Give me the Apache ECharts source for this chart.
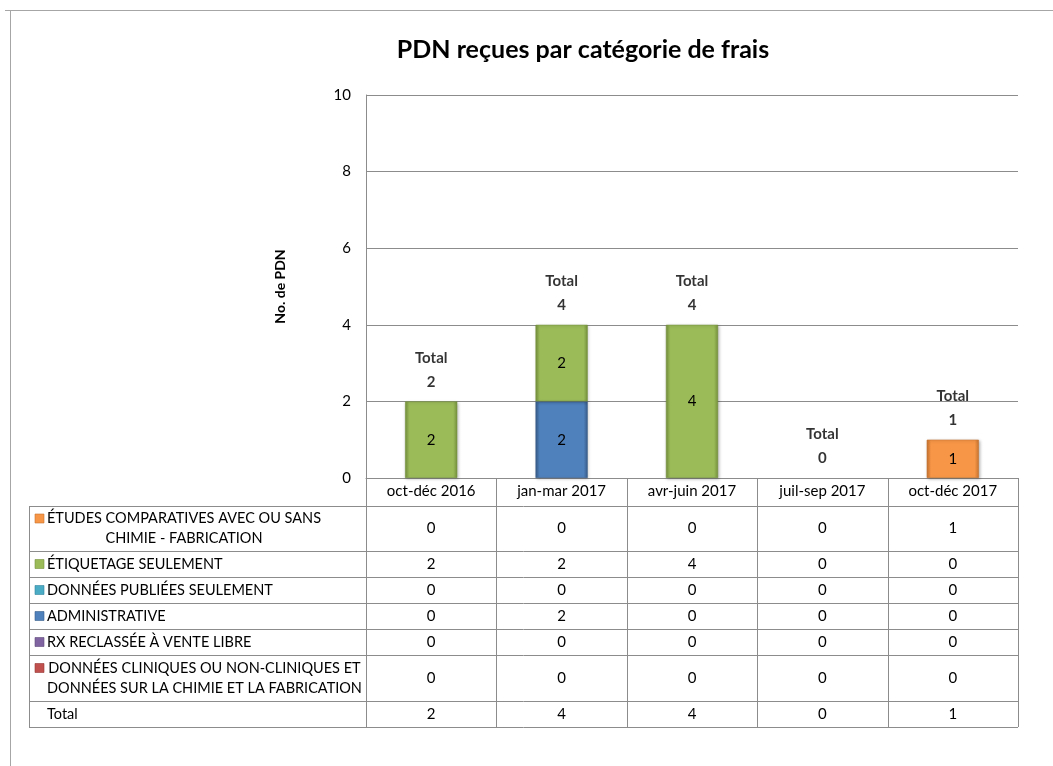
<!DOCTYPE html>
<html>
<head>
<meta charset="utf-8">
<script src="https://cdn.jsdelivr.net/npm/echarts@6/dist/echarts.min.js"></script>
<style>
html,body{margin:0;padding:0;background:#fff;}
#c{width:1053px;height:766px;}
</style>
</head>
<body>
<div id="c"></div>
<script>
// ---- data ----
const categories = ['oct-déc 2016', 'jan-mar 2017', 'avr-juin 2017', 'juil-sep 2017', 'oct-déc 2017'];
const etudes = [0, 0, 0, 0, 1];
const etiquetage = [2, 2, 4, 0, 0];
const publiees = [0, 0, 0, 0, 0];
const administrative = [0, 2, 0, 0, 0];
const rx = [0, 0, 0, 0, 0];
const cliniques = [0, 0, 0, 0, 0];
const yTicks = [0, 2, 4, 6, 8, 10];
const titleText = 'PDN reçues par catégorie de frais';
const yName = 'No. de PDN';
const names = {
  etudes: 'ÉTUDES COMPARATIVES AVEC OU SANS\nCHIMIE - FABRICATION',
  etiquetage: 'ÉTIQUETAGE SEULEMENT',
  publiees: 'DONNÉES PUBLIÉES SEULEMENT',
  administrative: 'ADMINISTRATIVE',
  rx: 'RX RECLASSÉE À VENTE LIBRE',
  cliniques: 'DONNÉES CLINIQUES OU NON-CLINIQUES ET\nDONNÉES SUR LA CHIMIE ET LA FABRICATION'
};
const colors = {
  etudes: '#F79646', etiquetage: '#9BBB59', publiees: '#4BACC6',
  administrative: '#4F81BD', rx: '#8064A2', cliniques: '#C0504D'
};
const borders = {
  etudes: '#C77430', etiquetage: '#76923C', publiees: '#31859C',
  administrative: '#385D8A', rx: '#5F497A', cliniques: '#943634'
};
const dataMap = { etudes, etiquetage, publiees, administrative, rx, cliniques };
const stackOrder = ['cliniques', 'rx', 'administrative', 'publiees', 'etiquetage', 'etudes'];
const tableOrder = ['etudes', 'etiquetage', 'publiees', 'administrative', 'rx', 'cliniques'];
const totals = categories.map((_, i) => stackOrder.reduce((s, k) => s + dataMap[k][i], 0));

const FONT = 'Lato, "Noto Sans", sans-serif';
const FS = 15;      // table / axis font size
const FS_LBL = 14.5; // row label font size

function shade(c, b) {
  return new echarts.graphic.LinearGradient(0, 0, 1, 0, [
    { offset: 0, color: b }, { offset: 0.08, color: c }, { offset: 0.92, color: c }, { offset: 1, color: b }
  ]);
}

const series = stackOrder.map(k => ({
  name: names[k],
  type: 'bar',
  stack: 'all',
  barWidth: '40%',
  data: dataMap[k].map(v => (v === 0 ? '-' : v)),
  itemStyle: { color: shade(colors[k], borders[k]), borderColor: borders[k], borderWidth: 0.6,
    shadowColor: 'rgba(0,0,0,0.25)', shadowBlur: 3, shadowOffsetX: 1, shadowOffsetY: 1 },
  label: {
    show: true, position: 'inside', color: '#000', fontSize: FS, fontFamily: FONT,
    formatter: p => String(p.value)
  },
  emphasis: { disabled: true }
}));
series.push({
  type: 'scatter',
  data: totals,
  symbolSize: 1,
  itemStyle: { color: 'rgba(0,0,0,0)' },
  label: {
    show: true, position: 'top', distance: 7,
    formatter: p => '{b|Total}\n{b|' + p.value + '}',
    rich: { b: { color: '#000', fontSize: FS, fontWeight: 700, fontFamily: FONT, lineHeight: 24 } }
  },
  emphasis: { disabled: true },
  z: 10
});

const chart = echarts.init(document.getElementById('c'), null, { renderer: 'canvas' });
chart.setOption({
  animation: false,
  backgroundColor: '#fff',
  title: {
    text: titleText, left: 578, top: 32, textAlign: 'center',
    textStyle: { fontSize: 25, fontWeight: 'bold', color: '#000', fontFamily: FONT }
  },
  grid: { left: 366, right: 35, top: 95, bottom: 288 },
  xAxis: {
    type: 'category', data: categories,
    axisLine: { lineStyle: { color: '#8c8c8c' } },
    axisTick: { show: false },
    axisLabel: { color: '#000', fontSize: FS, fontFamily: FONT, margin: 6, interval: 0 }
  },
  yAxis: {
    type: 'value', min: yTicks[0], max: yTicks[yTicks.length - 1], interval: yTicks[1] - yTicks[0],
    name: yName, nameLocation: 'middle', nameRotate: 90, nameGap: 79,
    nameTextStyle: { fontSize: 14, fontWeight: 'bold', color: '#000', fontFamily: FONT },
    axisLine: { show: true, lineStyle: { color: '#8c8c8c' } },
    axisTick: { show: false },
    axisLabel: { color: '#000', fontSize: FS, fontFamily: FONT, margin: 15 },
    splitLine: { lineStyle: { color: '#8c8c8c' } }
  },
  series
});

// ---- data table drawn with graphic elements ----
const xc0 = chart.convertToPixel({ xAxisIndex: 0 }, 0);
const xc1 = chart.convertToPixel({ xAxisIndex: 0 }, 1);
const band = xc1 - xc0;
const plotLeft = xc0 - band / 2;
const plotRight = plotLeft + band * categories.length;
const y0 = chart.convertToPixel({ yAxisIndex: 0 }, 0);
const tableLeft = 29;
const rowH = [28, 45, 26, 26, 26, 26, 46, 26];
const rowTops = [];
let acc = y0;
rowH.forEach(h => { rowTops.push(acc); acc += h; });
const tableBottom = acc;
const LC = '#8c8c8c';
const px = v => Math.round(v) + 0.5;
const measure = (() => {
  const ctx = document.createElement('canvas').getContext('2d');
  return (t, f) => { ctx.font = f; return ctx.measureText(t).width; };
})();
const els = [];
// outer chart border (top/left)
els.push({ type: 'line', shape: { x1: 5, y1: 10.5, x2: 1053, y2: 10.5 }, style: { stroke: '#a6a6a6', lineWidth: 1 } });
els.push({ type: 'line', shape: { x1: 10.5, y1: 10, x2: 10.5, y2: 766 }, style: { stroke: '#a6a6a6', lineWidth: 1 } });
// vertical lines of value columns
for (let i = 0; i <= categories.length; i++) {
  const x = px(plotLeft + band * i);
  els.push({ type: 'line', shape: { x1: x, y1: y0, x2: x, y2: tableBottom }, style: { stroke: LC, lineWidth: 1 } });
}
els.push({ type: 'line', shape: { x1: px(tableLeft), y1: rowTops[1], x2: px(tableLeft), y2: tableBottom }, style: { stroke: LC, lineWidth: 1 } });
// horizontal lines
for (let r = 1; r < rowTops.length; r++) {
  const y = px(rowTops[r]);
  els.push({ type: 'line', shape: { x1: tableLeft, y1: y, x2: plotRight, y2: y }, style: { stroke: LC, lineWidth: 1 } });
}
els.push({ type: 'line', shape: { x1: tableLeft, y1: px(tableBottom), x2: plotRight, y2: px(tableBottom) }, style: { stroke: LC, lineWidth: 1 } });

const lblFont = FS_LBL + 'px ' + FONT;
const numFont = FS + 'px ' + FONT;
const textX = 47;
const rows = tableOrder.map(k => ({ key: k, label: names[k], values: dataMap[k] }));
rows.push({ key: null, label: 'Total', values: totals });
rows.forEach((row, r) => {
  const top = rowTops[r + 1];
  const h = rowH[r + 1];
  const cy = top + h / 2;
  row.values.forEach((v, i) => {
    els.push({ type: 'text', x: plotLeft + band * (i + 0.5), y: cy,
      style: { text: String(v), fill: '#000', font: numFont, align: 'center', verticalAlign: 'middle' } });
  });
  const lines = row.label.split('\n');
  let swatchY = cy;
  if (lines.length === 1) {
    els.push({ type: 'text', x: textX, y: cy,
      style: { text: lines[0], fill: '#000', font: lblFont, align: 'left', verticalAlign: 'middle' } });
  } else {
    const w = Math.max(measure(lines[0], lblFont), measure(lines[1], lblFont));
    const centerX = textX + w / 2;
    const l1y = cy - 10, l2y = cy + 10;
    swatchY = l1y;
    els.push({ type: 'text', x: centerX, y: l1y,
      style: { text: lines[0], fill: '#000', font: lblFont, align: 'center', verticalAlign: 'middle' } });
    els.push({ type: 'text', x: centerX, y: l2y,
      style: { text: lines[1], fill: '#000', font: lblFont, align: 'center', verticalAlign: 'middle' } });
  }
  if (row.key) {
    els.push({ type: 'rect', shape: { x: 35, y: swatchY - 4.5, width: 9, height: 9 },
      style: { fill: shade(colors[row.key], borders[row.key]), stroke: borders[row.key], lineWidth: 0.6 } });
  }
});
chart.setOption({ graphic: { elements: els } });
</script>
</body>
</html>
